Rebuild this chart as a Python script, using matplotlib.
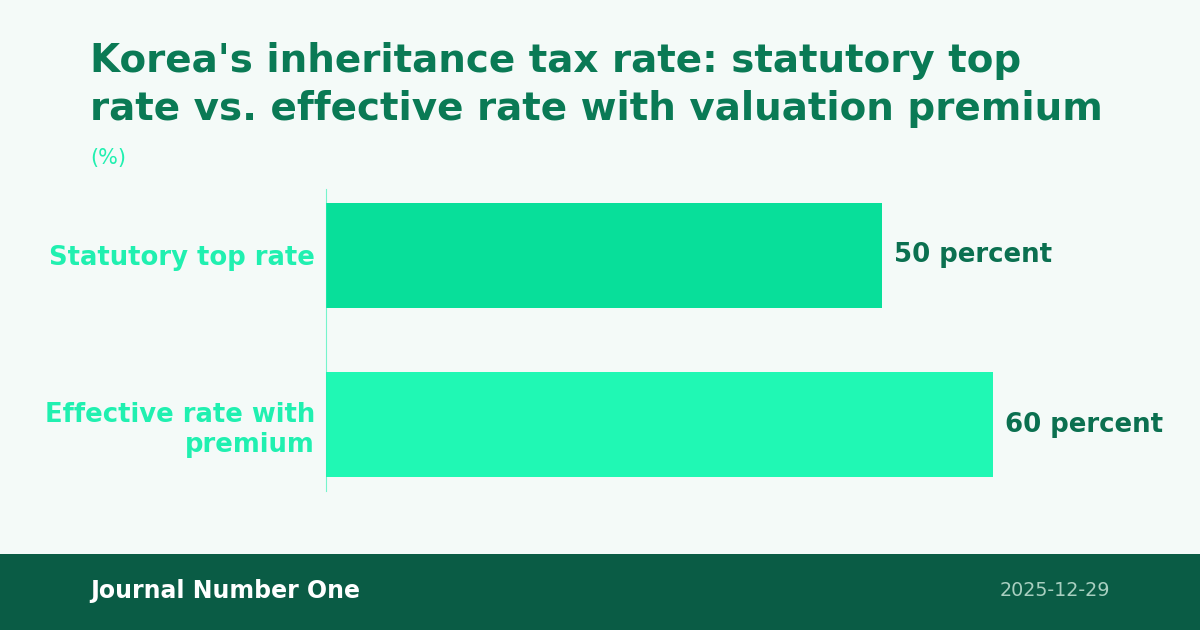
import matplotlib
matplotlib.use("Agg")
import matplotlib.pyplot as plt
from matplotlib.patches import Rectangle

##Data
categories = ["Statutory top rate", "Effective rate with\npremium"]
values = [50, 60]
value_labels = ["50 percent", "60 percent"]
bar_colors = ["#08DF9A", "#20F8B4"]

title = "Korea's inheritance tax rate: statutory top\nrate vs. effective rate with valuation premium"
unit = "(%)"
source = "Journal Number One"
date = "2025-12-29"

BG = "#F4FAF8"
TITLE_C = "#0A7A55"
LABEL_C = "#20F0B0"
VALUE_C = "#0B7050"
FOOT_C = "#0A5C45"

plt.rcParams['font.family'] = ['DejaVu Sans']


def main():
    fig = plt.figure(figsize=(12, 6.3), dpi=100)
    fig.patch.set_facecolor(BG)

    ax = fig.add_axes([326/1200, 139/630, 784/1200, 302/630])
    ax.set_facecolor(BG)
    y = list(range(len(categories)))
    ax.barh(y, values, height=0.62, color=bar_colors)
    ax.set_xlim(0, 784/11.12)
    ax.set_ylim(1.393, -0.393)

    for i, (v, lab) in enumerate(zip(values, value_labels)):
        ax.annotate(lab, (v, i), xytext=(8.6, 0), textcoords="offset points",
                    va="center", ha="left", fontsize=18.7, fontweight="bold",
                    color=VALUE_C)

    ax.set_yticks(y)
    ax.set_yticklabels(categories, fontsize=18.6, fontweight="bold", color=LABEL_C)
    ax.tick_params(axis="y", length=0, pad=8)
    ax.set_xticks([])
    for s in ["top", "right", "bottom"]:
        ax.spines[s].set_visible(False)
    ax.spines["left"].set_color(LABEL_C)
    ax.spines["left"].set_linewidth(0.8)
    ax.spines["left"].set_alpha(0.6)

    # title & unit
    fig.text(90/1200, 1 - 120/630, title, fontsize=28, fontweight="bold",
             color=TITLE_C, ha="left", va="baseline", linespacing=1.33)
    fig.text(90/1200, 1 - 158/630, unit, fontsize=15, color=LABEL_C,
             ha="left", va="center")

    # footer
    fig.patches.append(Rectangle((0, 0), 1, 76/630, transform=fig.transFigure,
                                 facecolor=FOOT_C, edgecolor="none", zorder=0))
    fig.text(90/1200, 1 - 591/630, source, fontsize=17, fontweight="bold",
             color="white", ha="left", va="center")
    fig.text(1110/1200, 1 - 591/630, date, fontsize=13.75, color="#A8CFC0",
             ha="right", va="center")

    fig.savefig("out.png", dpi=100, facecolor=BG)


if __name__ == "__main__":
    main()
